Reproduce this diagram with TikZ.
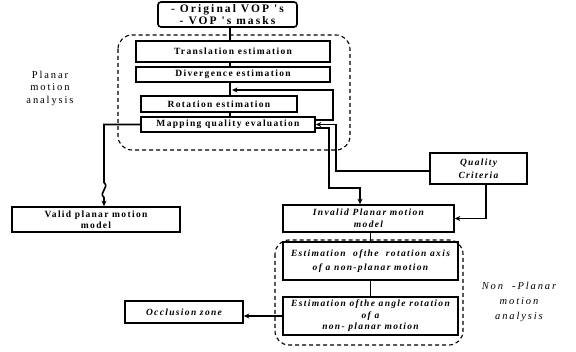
\documentclass[tikz,border=0pt]{standalone}
\usepackage{fontspec}
\setmainfont{Liberation Serif}
\newfontfamily\boxfont{Liberation Serif}[LetterSpace=14]
\newfontfamily\widefont{Liberation Serif}[LetterSpace=18]
\usetikzlibrary{positioning,arrows.meta}

\begin{document}
\begin{tikzpicture}[x=1pt,y=-1pt,
	box/.style={draw,line width=1.6pt,inner sep=0pt,align=center,
		font=\boxfont\bfseries\fontsize{9.5}{11}\selectfont},
	ibox/.style={box,font=\boxfont\bfseries\itshape\fontsize{9.5}{11.5}\selectfont},
	region/.style={draw,dashed,line width=1.1pt,dash pattern=on 4pt off 3pt,rounded corners=14pt},
	link/.style={line width=1.6pt},
	arrow/.style={link,-{Stealth[length=5.5pt,width=5pt]}},
	note/.style={align=center,font=\widefont\fontsize{10.5}{12.5}\selectfont}]
	\useasboundingbox (0,0) rectangle (576,352);

	%Dashed regions
	\draw [region] (118,35) rectangle (350,150);
	\draw [region] (275,240) rectangle (463,345);
	\node [note] (planarlbl) at (50,88) {Planar\\motion\\analysis};
	\node [note,font=\widefont\itshape\fontsize{10.5}{15}\selectfont] (nonplanarlbl) at (519,302) {Non\ \ -Planar\\motion\\analysis};

	%Planar motion boxes
	\node [box,rounded corners=3pt,minimum width=139pt,minimum height=25pt,font=\widefont\bfseries\fontsize{11.5}{12}\selectfont] (vop) at (227.5,14.5) {- Original VOP 's\\- VOP 's masks};
	\node [box,minimum width=194pt,minimum height=21pt] (trans) at (233,51.5) {Translation estimation};
	\node [box,minimum width=194pt,minimum height=15pt] (div) at (233,74.5) {Divergence estimation};
	\node [box,minimum width=156pt,minimum height=16pt] (rot) at (219,104) {Rotation estimation};
	\node [box,minimum width=174pt,minimum height=15pt] (map) at (228,124.5) {Mapping quality evaluation};
	\node [ibox,minimum width=97pt,minimum height=31pt,font=\boxfont\bfseries\itshape\fontsize{9.5}{13}\selectfont] (qc) at (478.5,168.5) {Quality\\Criteria};
	\node [box,minimum width=168pt,minimum height=25pt] (valid) at (96,219.5) {Valid planar motion\\model};
	\node [ibox,minimum width=171pt,minimum height=27pt] (invalid) at (368.5,218.5) {Invalid Planar motion\\model};

	%Non-planar motion boxes
	\node [ibox,minimum width=175pt,minimum height=38pt,font=\boxfont\bfseries\itshape\fontsize{9.5}{14}\selectfont] (axis) at (370.5,261) {Estimation\ \ ofthe\ \ rotation axis\\of a non-planar motion};
	\node [ibox,minimum width=175pt,minimum height=38pt] (angle) at (370.5,316) {Estimation ofthe angle rotation\\of a\\non- planar motion};
	\node [ibox,minimum width=118pt,minimum height=22pt] (occ) at (184,312) {Occlusion zone};

	%Main chain
	\coordinate (spine) at (230,0);
	\coordinate (fb) at (232,90);
	\draw [link] (vop.south -| spine) -- (trans.north -| spine);
	\draw [link] (trans.south -| spine) -- (div.north -| spine);
	\draw [link] (div.south -| spine) -- (rot.north -| spine);
	\draw [link] (rot.south -| spine) -- (map.north -| spine);

	%Feedback and quality criteria
	\draw [arrow] ([yshift=4.5pt]map.east) -- ++(17,0) |- (fb);
	\draw [arrow] ([yshift=-2.5pt]qc.west) -- ++(-93,0) |- (map.east);
	\draw [arrow] ([yshift=-3.5pt]map.east) -- ++(13,0) -- ++(0,60) -| ([xshift=-8.5pt]invalid.north);
	\draw [arrow] ([xshift=7.5pt]qc.south) |- (invalid.east);

	%Valid model
	\coordinate (vx) at (104,0);
	\draw [arrow] (map.west) -- (map.west -| vx) -- ++(0,58) .. controls ++(6,5) and ++(-6,-5) .. ++(0,15) -- (valid.north -| vx);

	%Non-planar chain
	\draw [link] (axis.north) -- (axis.north |- invalid.south);
	\draw [link] (axis.south) -- (angle.north);
	\draw [arrow] (angle.west) -- (angle.west -| occ.east);
\end{tikzpicture}
\end{document}
